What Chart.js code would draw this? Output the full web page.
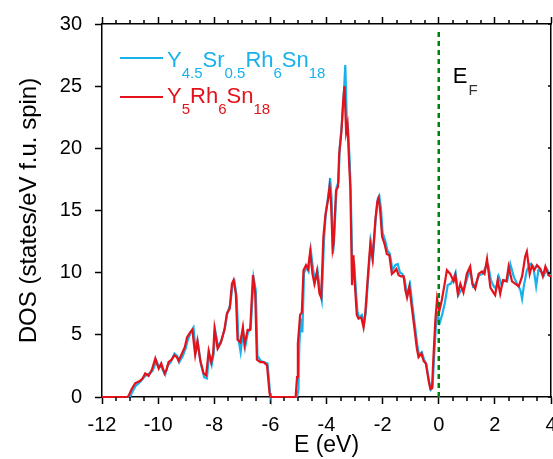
<!DOCTYPE html>
<html>
<head>
<meta charset="utf-8">
<script src="https://cdn.jsdelivr.net/npm/chart.js@4.4.1/dist/chart.umd.min.js"></script>
<style>
  html, body { margin: 0; padding: 0; background: #fff; }
  #wrap { width: 553px; height: 459px; }
</style>
</head>
<body>
<div id="wrap"><canvas id="dosChart" width="553" height="459"></canvas></div>
<script>
// Energy grid (eV) and DOS (states/eV f.u. spin) for Y5Rh6Sn18
const redE = [-12, -11.1, -11.05, -10.95, -10.82, -10.64, -10.55, -10.46, -10.34, -10.22, -10.1, -10.03, -9.98, -9.89, -9.77, -9.7, -9.63, -9.52, -9.42, -9.33, -9.27, -9.15, -9.05, -8.97, -8.86, -8.78, -8.68, -8.6, -8.5, -8.38, -8.29, -8.2, -8.11, -8.04, -7.99, -7.88, -7.76, -7.64, -7.55, -7.45, -7.37, -7.31, -7.23, -7.17, -7.07, -6.98, -6.92, -6.81, -6.72, -6.62, -6.54, -6.48, -6.36, -6.24, -6.12, -6.03, -6.0, -5.1, -5.05, -5.02, -4.94, -4.88, -4.82, -4.73, -4.66, -4.58, -4.5, -4.43, -4.34, -4.25, -4.19, -4.11, -4.04, -3.95, -3.89, -3.84, -3.78, -3.75, -3.66, -3.59, -3.55, -3.47, -3.41, -3.36, -3.3, -3.25, -3.19, -3.15, -3.09, -3.04, -2.98, -2.92, -2.86, -2.76, -2.68, -2.62, -2.52, -2.44, -2.36, -2.26, -2.19, -2.14, -2.08, -2.02, -1.93, -1.85, -1.76, -1.67, -1.58, -1.51, -1.43, -1.34, -1.25, -1.19, -1.13, -1.05, -0.96, -0.86, -0.78, -0.72, -0.62, -0.54, -0.46, -0.36, -0.3, -0.24, -0.19, -0.12, -0.06, 0.02, 0.11, 0.21, 0.29, 0.41, 0.53, 0.59, 0.68, 0.77, 0.88, 1.0, 1.12, 1.2, 1.3, 1.42, 1.54, 1.63, 1.72, 1.84, 1.95, 2.01, 2.1, 2.19, 2.29, 2.41, 2.49, 2.61, 2.73, 2.85, 2.97, 3.08, 3.14, 3.24, 3.32, 3.4, 3.5, 3.62, 3.71, 3.8, 3.91, 4.0];
const redDOS = [0, 0, 0.1, 0.6, 1.1, 1.3, 1.5, 1.9, 1.7, 2.2, 3.1, 2.6, 2.3, 2.7, 1.9, 2.2, 2.8, 3.0, 3.35, 3.2, 2.9, 3.5, 4.0, 4.8, 5.2, 5.4, 3.4, 4.5, 2.95, 1.9, 1.75, 3.7, 2.8, 3.5, 5.5, 3.9, 4.4, 5.4, 6.7, 7.1, 9.1, 9.4, 8.3, 4.6, 4.4, 5.6, 4.2, 5.4, 5.4, 9.8, 8.3, 3.0, 2.8, 2.8, 2.55, 0.3, 0, 0, 1.6, 4.3, 6.6, 6.8, 10.2, 10.6, 10.3, 11.7, 9.9, 9.1, 10.1, 8.3, 8.0, 12.9, 14.6, 15.8, 16.9, 15.7, 11.9, 12.3, 16.6, 16.9, 19.5, 21.3, 23.7, 25.0, 21.3, 21.9, 18.6, 16.8, 9.0, 11.4, 8.7, 6.6, 6.3, 6.4, 5.6, 6.7, 9.9, 12.3, 11.1, 14.2, 15.7, 16.0, 14.8, 12.9, 12.3, 11.5, 11.4, 9.9, 10.1, 10.3, 9.8, 9.7, 9.7, 8.6, 8.0, 8.9, 7.2, 5.4, 3.9, 3.2, 3.5, 2.9, 2.7, 1.3, 0.65, 0.7, 3.2, 6.2, 7.9, 6.9, 7.8, 9.1, 10.2, 9.9, 9.3, 9.8, 8.3, 9.1, 8.4, 9.9, 10.5, 9.1, 8.7, 9.9, 10.1, 9.9, 11.1, 8.8, 8.4, 8.2, 9.4, 8.3, 9.4, 9.3, 10.5, 9.3, 9.1, 8.9, 9.7, 11.3, 11.7, 9.9, 10.6, 10.2, 10.6, 10.3, 9.7, 10.5, 9.8, 9.7];

// Energy grid (eV) and DOS for Y4.5Sr0.5Rh6Sn18
const blueE = [-12, -11.0, -10.92, -10.8, -10.64, -10.5, -10.4, -10.3, -10.2, -10.06, -9.98, -9.88, -9.75, -9.66, -9.55, -9.42, -9.32, -9.25, -9.12, -9.02, -8.94, -8.82, -8.74, -8.66, -8.58, -8.48, -8.36, -8.26, -8.18, -8.09, -8.02, -7.97, -7.86, -7.74, -7.62, -7.53, -7.43, -7.35, -7.28, -7.2, -7.14, -7.06, -6.97, -6.9, -6.8, -6.7, -6.6, -6.52, -6.46, -6.34, -6.22, -6.1, -6.01, -5.98, -5.05, -5.0, -4.97, -4.92, -4.86, -4.8, -4.71, -4.64, -4.56, -4.48, -4.41, -4.32, -4.23, -4.17, -4.09, -4.02, -3.93, -3.87, -3.82, -3.77, -3.73, -3.64, -3.57, -3.53, -3.45, -3.38, -3.33, -3.28, -3.23, -3.17, -3.13, -3.07, -3.02, -2.96, -2.9, -2.84, -2.74, -2.66, -2.6, -2.5, -2.42, -2.34, -2.24, -2.17, -2.12, -2.06, -2.0, -1.91, -1.83, -1.74, -1.65, -1.55, -1.46, -1.38, -1.3, -1.22, -1.16, -1.1, -1.02, -0.94, -0.84, -0.76, -0.7, -0.6, -0.52, -0.44, -0.34, -0.28, -0.22, -0.17, -0.1, -0.04, 0.04, 0.12, 0.22, 0.32, 0.42, 0.5, 0.6, 0.7, 0.8, 0.9, 1.02, 1.12, 1.22, 1.32, 1.44, 1.56, 1.66, 1.76, 1.86, 1.96, 2.04, 2.14, 2.24, 2.32, 2.44, 2.55, 2.67, 2.79, 2.91, 2.97, 3.03, 3.14, 3.26, 3.37, 3.47, 3.55, 3.65, 3.75, 3.85, 3.95, 4.0];
const blueDOS = [0, 0, 0.4, 0.9, 1.2, 1.6, 1.8, 1.9, 2.1, 2.9, 2.5, 2.4, 1.8, 2.5, 2.8, 3.5, 3.3, 2.8, 3.3, 3.9, 4.6, 5.3, 5.6, 3.6, 4.3, 2.7, 1.6, 1.5, 3.5, 2.6, 3.5, 5.4, 4.0, 4.6, 5.5, 6.8, 7.4, 9.0, 9.3, 8.0, 4.7, 3.6, 5.3, 4.0, 5.2, 5.5, 9.6, 8.6, 3.3, 2.9, 2.8, 2.7, 0.3, 0, 0, 0.6, 4.0, 6.3, 5.2, 10.0, 10.4, 10.1, 11.8, 10.3, 9.3, 10.2, 8.5, 7.8, 12.6, 14.9, 16.3, 17.6, 16.0, 11.5, 12.6, 16.9, 17.3, 20.0, 22.0, 24.5, 26.7, 22.4, 21.5, 18.8, 15.8, 9.6, 10.9, 8.9, 6.9, 6.4, 6.6, 5.9, 6.8, 10.1, 12.5, 11.3, 14.5, 16.0, 16.2, 15.2, 13.2, 12.6, 11.8, 11.5, 10.2, 10.6, 10.7, 10.0, 9.9, 9.5, 8.7, 8.3, 9.0, 7.4, 5.6, 4.1, 3.4, 3.6, 3.0, 2.6, 1.2, 0.6, 0.8, 3.0, 5.8, 6.6, 6.0, 6.6, 7.6, 9.0, 9.1, 9.4, 10.0, 8.2, 8.6, 8.7, 9.6, 10.2, 8.9, 9.1, 9.8, 9.9, 10.4, 10.6, 9.4, 8.9, 8.7, 9.7, 9.0, 9.4, 9.3, 10.7, 9.7, 9.1, 8.6, 7.9, 8.9, 10.2, 10.7, 10.5, 8.9, 10.2, 10.1, 9.8, 10.3, 9.9, 9.8];

// Axis ticks
const xTickValues = [-12, -10, -8, -6, -4, -2, 0, 2, 4];
const yTickValues = [0, 5, 10, 15, 20, 25, 30];
const fermiEnergy = 0;

// Legend labels split into normal / subscript runs
const blueLabel = [['Y', 0], ['4.5', 1], ['Sr', 0], ['0.5', 1], ['Rh', 0], ['6', 1], ['Sn', 0], ['18', 1]];
const redLabel = [['Y', 0], ['5', 1], ['Rh', 0], ['6', 1], ['Sn', 0], ['18', 1]];

const BLUE = '#17b2ec';
const RED = '#e3121b';
const FONT = '"Liberation Sans", Arial, sans-serif';

Chart.defaults.font.family = FONT;
Chart.defaults.color = '#000';

const toPoints = (xs, ys) => xs.map((e, i) => ({ x: e, y: ys[i] }));

// draws a formula like Y4.5Sr0.5... with subscripts
function drawFormula(ctx, parts, x, y, color) {
    ctx.fillStyle = color;
    ctx.textBaseline = 'alphabetic';
    ctx.textAlign = 'left';
    let cx = x;
    parts.forEach(([txt, sub]) => {
        ctx.font = (sub ? '15px ' : '22px ') + FONT;
        ctx.fillText(txt, cx, sub ? y + 11 : y);
        cx += ctx.measureText(txt).width;
    });
}

// minor ticks, inward right ticks, Fermi level line, legend and E_F label
const decorations = {
    id: 'decorations',
    afterDatasetsDraw(chart) {
        const { ctx, chartArea: a, scales: { x, y } } = chart;
        const xmin = xTickValues[0], xmax = xTickValues[xTickValues.length - 1];

        ctx.save();
        ctx.strokeStyle = '#000';
        ctx.lineWidth = 1.5;
        ctx.beginPath();
        for (let v = xmin + 0.5; v < xmax; v += 0.5) {
            if (xTickValues.includes(v)) continue;
            const px = Math.round(x.getPixelForValue(v));
            ctx.moveTo(px, a.bottom);
            ctx.lineTo(px, a.bottom + 4);
            ctx.moveTo(px, a.top);
            ctx.lineTo(px, a.top - 4);
        }
        yTickValues.forEach(v => {
            const py = Math.round(y.getPixelForValue(v));
            ctx.moveTo(a.right, py);
            ctx.lineTo(a.right - 3, py);
        });
        ctx.stroke();

        // dashed Fermi level
        const xf = x.getPixelForValue(fermiEnergy);
        ctx.strokeStyle = '#00820f';
        ctx.lineWidth = 2.5;
        ctx.setLineDash([5, 4]);
        ctx.beginPath();
        ctx.moveTo(xf, a.top + 8);
        ctx.lineTo(xf, a.bottom);
        ctx.stroke();
        ctx.setLineDash([]);

        // E_F label
        ctx.fillStyle = '#000';
        ctx.font = '22px ' + FONT;
        ctx.fillText('E', xf + 14, 83);
        const w = ctx.measureText('E').width;
        ctx.font = '15px ' + FONT;
        ctx.fillStyle = '#333';
        ctx.fillText('F', xf + 14 + w + 1, 95);

        // legend
        ctx.lineWidth = 2;
        ctx.strokeStyle = BLUE;
        ctx.beginPath();
        ctx.moveTo(120, 58);
        ctx.lineTo(163, 58);
        ctx.stroke();
        drawFormula(ctx, blueLabel, 167, 67, BLUE);

        ctx.strokeStyle = RED;
        ctx.beginPath();
        ctx.moveTo(120, 97);
        ctx.lineTo(163, 97);
        ctx.stroke();
        drawFormula(ctx, redLabel, 167, 103, RED);
        ctx.restore();
    }
};

const axisGrid = { display: true, drawOnChartArea: false, drawTicks: true, tickLength: 7, tickWidth: 1.5, tickColor: '#000' };
const axisBorder = { display: true, color: '#000', width: 1.5 };

// keep the plot frame fixed regardless of label overhang
const fixBox = (w, h) => s => {
    if (w !== null) s.width = w;
    if (h !== null) s.height = h;
    s.paddingLeft = 0;
    s.paddingRight = 0;
    s.paddingTop = 0;
    s.paddingBottom = 0;
};

new Chart(document.getElementById('dosChart'), {
    type: 'line',
    data: {
        datasets: [
            {
                label: 'Y5Rh6Sn18',
                data: toPoints(redE, redDOS),
                borderColor: RED,
                borderWidth: 2.2,
                pointRadius: 0,
                tension: 0,
                order: 1,
                clip: false
            },
            {
                label: 'Y4.5Sr0.5Rh6Sn18',
                data: toPoints(blueE, blueDOS),
                borderColor: BLUE,
                borderWidth: 2.2,
                pointRadius: 0,
                tension: 0,
                order: 2,
                clip: false
            }
        ]
    },
    options: {
        responsive: false,
        animation: false,
        devicePixelRatio: 1,
        layout: { padding: 0, autoPadding: false },
        plugins: { legend: { display: false }, tooltip: { enabled: false } },
        scales: {
            x: {
                type: 'linear',
                position: 'bottom',
                min: xTickValues[0],
                max: xTickValues[xTickValues.length - 1],
                afterBuildTicks: s => { s.ticks = xTickValues.map(v => ({ value: v })); },
                ticks: { font: { size: 20 }, padding: 9, maxRotation: 0 },
                grid: axisGrid,
                border: axisBorder,
                title: { display: true, text: 'E (eV)', font: { size: 23 }, padding: { top: 0, bottom: 0 } },
                afterFit: fixBox(null, 62)
            },
            x2: {
                type: 'linear',
                position: 'top',
                min: xTickValues[0],
                max: xTickValues[xTickValues.length - 1],
                afterBuildTicks: s => { s.ticks = xTickValues.map(v => ({ value: v })); },
                ticks: { display: false },
                grid: axisGrid,
                border: axisBorder,
                afterFit: fixBox(null, 24)
            },
            y: {
                type: 'linear',
                position: 'left',
                min: yTickValues[0],
                max: yTickValues[yTickValues.length - 1],
                afterBuildTicks: s => { s.ticks = yTickValues.map(v => ({ value: v })); },
                ticks: { font: { size: 20 }, padding: 13 },
                grid: axisGrid,
                border: axisBorder,
                title: { display: true, text: 'DOS (states/eV f.u. spin)', font: { size: 24 }, padding: { top: 15, bottom: 0 } },
                afterFit: fixBox(102, null)
            },
            y2: {
                type: 'linear',
                position: 'right',
                min: yTickValues[0],
                max: yTickValues[yTickValues.length - 1],
                ticks: { display: false },
                grid: { display: false },
                border: axisBorder,
                afterFit: fixBox(2, null)
            }
        }
    },
    plugins: [decorations]
});
</script>
</body>
</html>
